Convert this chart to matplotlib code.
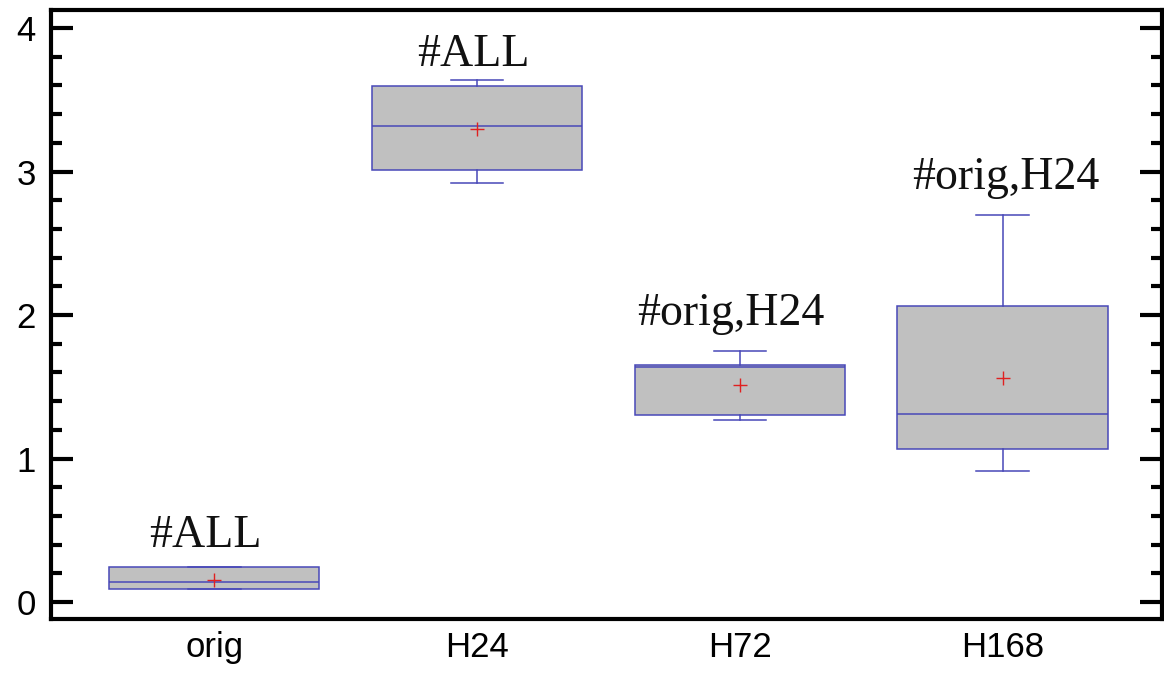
import matplotlib
matplotlib.use("Agg")
import matplotlib.pyplot as plt
from matplotlib.ticker import MultipleLocator

# Group summary statistics
groups = ["orig", "H24", "H72", "H168"]
q1 = [0.09, 3.01, 1.30, 1.07]
medians = [0.14, 3.32, 1.64, 1.31]
q3 = [0.244, 3.594, 1.652, 2.06]
whisker_low = [0.09, 2.92, 1.27, 0.914]
whisker_high = [0.244, 3.636, 1.752, 2.70]
means = [0.153, 3.296, 1.514, 1.561]

# Significance labels above each group
sig_labels = ["#ALL", "#ALL", "#orig,H24", "#orig,H24"]
sig_dx = [-0.036, -0.015, -0.036, 0.013]
sig_gap = [0.14, 0.10, 0.18, 0.18]

stats = []
for name, lo, a, m, b, hi, mu in zip(groups, whisker_low, q1, medians, q3,
                                     whisker_high, means):
    stats.append(dict(label=name, whislo=lo, q1=a, med=m, q3=b, whishi=hi,
                      mean=mu, fliers=[]))

fig = plt.figure(figsize=(11.64, 6.75), dpi=100)
ax = fig.add_axes([0.0438, 0.083, 0.9545, 0.902])

edge = "#4848b8"
positions = list(range(1, len(groups) + 1))
ax.bxp(stats, positions=positions, widths=0.8, capwidths=0.2,
       patch_artist=True, showmeans=True, showfliers=False,
       boxprops=dict(facecolor="#c0c0c0", edgecolor=edge, linewidth=1.1),
       medianprops=dict(color=edge, linewidth=1.1),
       whiskerprops=dict(color=edge, linewidth=1.1),
       capprops=dict(color=edge, linewidth=1.1),
       meanprops=dict(marker="+", markeredgecolor="#e02020",
                      markersize=10, markeredgewidth=1.0))

for p, txt, dx, gap, hi in zip(positions, sig_labels, sig_dx, sig_gap,
                               whisker_high):
    ax.text(p + dx, hi + gap, txt, ha="center", va="baseline",
            fontsize=33, family="Liberation Serif", color="#111111")

ax.set_xlim(0.378, 4.607)
ax.set_ylim(-0.118, 4.125)

ax.set_xticks(positions)
ax.set_xticklabels(groups)
ax.tick_params(axis="x", length=0, pad=9, labelsize=25,
               labelfontfamily="Liberation Sans")

ax.yaxis.set_major_locator(MultipleLocator(1))
ax.yaxis.set_minor_locator(MultipleLocator(0.2))
ax.tick_params(axis="y", which="both", direction="in", left=True,
               right=True, width=3, pad=11, labelsize=25,
               labelfontfamily="Liberation Sans")
ax.tick_params(axis="y", which="major", length=16)
ax.tick_params(axis="y", which="minor", length=8)

for s in ax.spines.values():
    s.set_linewidth(3)
    s.set_color("black")

fig.savefig("out.png", dpi=100)
